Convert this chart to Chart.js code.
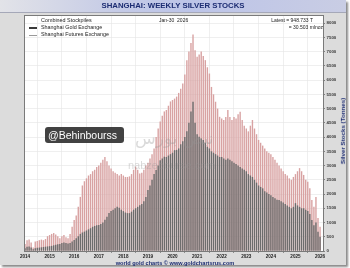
<!DOCTYPE html>
<html><head><meta charset="utf-8">
<script src="https://cdn.jsdelivr.net/npm/chart.js@4.4.1/dist/chart.umd.min.js"></script>
<style>
html,body{margin:0;padding:0;width:350px;height:268px;overflow:hidden;background:#fff;font-family:"Liberation Sans",Arial,sans-serif}
#panel{position:absolute;left:0;top:0;width:346px;height:265px;background:#dcdcdc;box-shadow:2px 2px 2px #8a8a8a}
#titlebar{position:absolute;left:0;top:0;width:346px;height:12px;background:linear-gradient(to right,#e2e3e8 0%,#c4cae6 35%,#bcc4e8 55%,#c9cde4 100%);border-bottom:1px solid #a5a8b8}
#wrap{position:absolute;left:0;top:0;width:350px;height:268px}
.t{position:absolute;white-space:nowrap;line-height:1}
.nav{color:#1c2c72;font-weight:bold}
.lg{font-size:5.4px;color:#222}
.mk{position:absolute;width:8px}
</style></head>
<body>
<div id="panel"><div id="titlebar"></div></div>
<div id="wrap"><canvas id="c" width="350" height="268"></canvas></div>
<div class="t nav" style="left:0;width:346px;text-align:center;top:2.4px;font-size:7.8px">SHANGHAI: WEEKLY SILVER STOCKS</div>
<div class="t lg" style="left:41px;top:18px">Combined Stockpiles</div>
<div class="mk" style="left:29px;top:27px;height:1.5px;background:#3a3a3a"></div>
<div class="t lg" style="left:41px;top:25px">Shanghai Gold Exchange</div>
<div class="mk" style="left:29px;top:34.5px;height:1.2px;background:#9a9a9a"></div>
<div class="t lg" style="left:41px;top:32px">Shanghai Futures Exchange</div>
<div class="t" style="left:159px;top:18.3px;font-size:5px;color:#222">Jan-30&nbsp;&nbsp;2026</div>
<div class="t" style="right:37px;top:18px;font-size:5px;color:#222;text-align:right">Latest = 948.733 T</div>
<div class="t" style="right:27px;top:25px;font-size:5px;color:#222;text-align:right">= 30.503 mlnoz</div>
<div class="t nav" style="left:343px;top:131px;font-size:6.2px;transform:translate(-50%,-50%) rotate(-90deg)">Silver Stocks (Tonnes)</div>
<div class="t nav" style="left:0;width:350px;text-align:center;top:260.5px;font-size:5.6px">world gold charts © www.goldchartsrus.com</div>
<div class="t" style="left:45px;top:127px;width:79px;height:16px;background:rgba(45,45,45,0.9);border-radius:3px"></div>
<div class="t" style="left:48px;top:129.5px;font-size:10.5px;color:#fff">@Behinbourss</div>
<div class="t" style="left:135px;top:130px;font-size:17px;color:rgba(150,150,150,0.35);font-family:'DejaVu Sans'" dir="rtl">نبض بورس</div>
<div class="t" style="left:128px;top:160px;font-size:11px;color:rgba(150,150,150,0.35)">nabzebourse.com</div>
<script>
const startYear = 2014;
const combined = [
  250, 380, 400, 300, 120, 330, 350, 380, 400, 380, 420, 520,
  560, 600, 630, 580, 520, 450, 520, 560, 480, 450, 600, 850,
  1090, 1250, 1550, 1900, 2300, 2450, 2550, 2650, 2700, 2800, 2850, 2950,
  3000, 3100, 3200, 3300, 3150, 3000, 2900, 2800, 2750, 2700, 2650, 2700,
  2650, 2600, 2600, 2620, 2700, 2850, 2960, 2850, 2720, 2750, 2850, 3000,
  3100, 3250, 3400, 3600, 4000, 4300, 4550, 4750, 4900, 4950, 5100, 5250,
  5300, 5350, 5420, 5550, 5700, 5880, 6200, 6700, 7000, 7300, 7600, 7050,
  6820, 6900, 7000, 6850, 6700, 6450, 6230, 5760, 5500, 5240, 5000, 4710,
  4650, 4600, 4700, 4950, 4700, 4600, 4700, 4650, 4800, 4890, 4600, 4400,
  4300, 4200, 4400, 4600, 4300, 4100, 3900, 3800, 3700, 3600, 3500, 3450,
  3400, 3300, 3200, 3100, 3000, 2900, 2800, 2700, 2650, 2550, 2500, 2600,
  2700, 2800, 2910, 2800, 2670, 2500, 2430, 2200, 1790, 1550, 1900, 1160,
  850
];
const sge = [
  100, 150, 160, 120, 60, 100, 110, 120, 130, 140, 150, 160,
  170, 180, 200, 220, 240, 250, 280, 300, 280, 260, 280, 330,
  390, 450, 520, 600, 650, 680, 720, 760, 800, 850, 880, 900,
  910, 950, 1000, 1100, 1200, 1330, 1400, 1450, 1500, 1550, 1520, 1450,
  1400, 1350, 1330, 1330, 1380, 1450, 1500, 1550, 1610, 1650, 1750, 1900,
  2140, 2300, 2500, 2700, 2840, 3000, 3190, 3250, 3310, 3300, 3350, 3400,
  3450, 3540, 3550, 3600, 3750, 3850, 4000, 4200, 4500, 4900, 5240, 4500,
  4100, 4010, 3950, 3900, 3800, 3660, 3600, 3500, 3450, 3400, 3350, 3300,
  3300, 3250, 3200, 3250, 3200, 3150, 3100, 3050, 3000, 2950, 2900, 2850,
  2800, 2700, 2650, 2600, 2500, 2400, 2300, 2250, 2200, 2100, 2050, 2000,
  1960, 1900, 1850, 1800, 1790, 1750, 1700, 1650, 1600, 1550, 1500, 1550,
  1680, 1600, 1550, 1500, 1500, 1450, 1400, 1300, 1090, 900, 1000, 680,
  500
];
const xTickLabels = ['2014','2015','2016','2017','2018','2019','2020','2021','2022','2023','2024','2025','2026'];
const yTickLabels = ['0','500','1000','1500','2000','2500','3000','3500','4000','4500','5000','5500','6000','6500','7000','7500','8000'];

const months = combined.map((_, i) => startYear + i / 12);

const framePlugin = {
  id: 'frame',
  beforeDraw(c) {
    const { ctx, chartArea: a } = c;
    ctx.save();
    ctx.fillStyle = '#ffffff';
    ctx.fillRect(a.left, a.top, a.right - a.left, a.bottom - a.top);
    ctx.restore();
  },
  afterDraw(c) {
    const { ctx, chartArea: a } = c;
    ctx.save();
    ctx.strokeStyle = '#7a7a7a';
    ctx.lineWidth = 1;
    ctx.strokeRect(a.left - 0.5, a.top - 0.5, a.right - a.left + 1, a.bottom - a.top + 1);
    ctx.restore();
  }
};

new Chart(document.getElementById('c'), {
  type: 'bar',
  data: {
    datasets: [
      { label: 'Shanghai Gold Exchange', data: months.map((x, i) => ({ x, y: sge[i] })),
        backgroundColor: '#6c6c6c', order: 0, grouped: false, barPercentage: 0.68, categoryPercentage: 1 },
      { label: 'Combined Stockpiles', data: months.map((x, i) => ({ x, y: combined[i] })),
        backgroundColor: '#d8a2a2', order: 1, grouped: false, barPercentage: 0.68, categoryPercentage: 1 }
    ]
  },
  options: {
    animation: false, responsive: false, devicePixelRatio: 1,
    layout: { padding: { left: 25, top: 16, right: 0, bottom: 0 } },
    plugins: { legend: { display: false }, tooltip: { enabled: false } },
    scales: {
      x: {
        type: 'linear', min: 2014, max: 2026.12, offset: false,
        afterFit(s) { s.height = 17; },
        afterBuildTicks(s) { s.ticks = xTickLabels.map(l => ({ value: Number(l) })); },
        grid: { color: '#e4e4e4', lineWidth: 0.6, tickColor: '#555', tickLength: 2 },
        border: { display: false },
        ticks: {
          autoSkip: false, maxRotation: 0, padding: 1,
          font: { size: 4.6, weight: 'bold', family: '"Liberation Sans", Arial, sans-serif' }, color: '#222',
          callback(v) { return String(v); }
        }
      },
      y: {
        position: 'right', min: 0, max: 8250,
        afterFit(s) { s.width = 27; },
        afterBuildTicks(s) { s.ticks = yTickLabels.map(l => ({ value: Number(l) })); },
        grid: { color: '#e4e4e4', lineWidth: 0.6, tickColor: '#444', tickLength: 2 },
        border: { display: false },
        ticks: {
          autoSkip: false, padding: 1.5,
          font: { size: 4.4, weight: 'bold', family: '"Liberation Sans", Arial, sans-serif' }, color: '#3a3a3a',
          callback(v) { return String(v); }
        }
      }
    }
  },
  plugins: [framePlugin]
});
</script>
</body></html>
